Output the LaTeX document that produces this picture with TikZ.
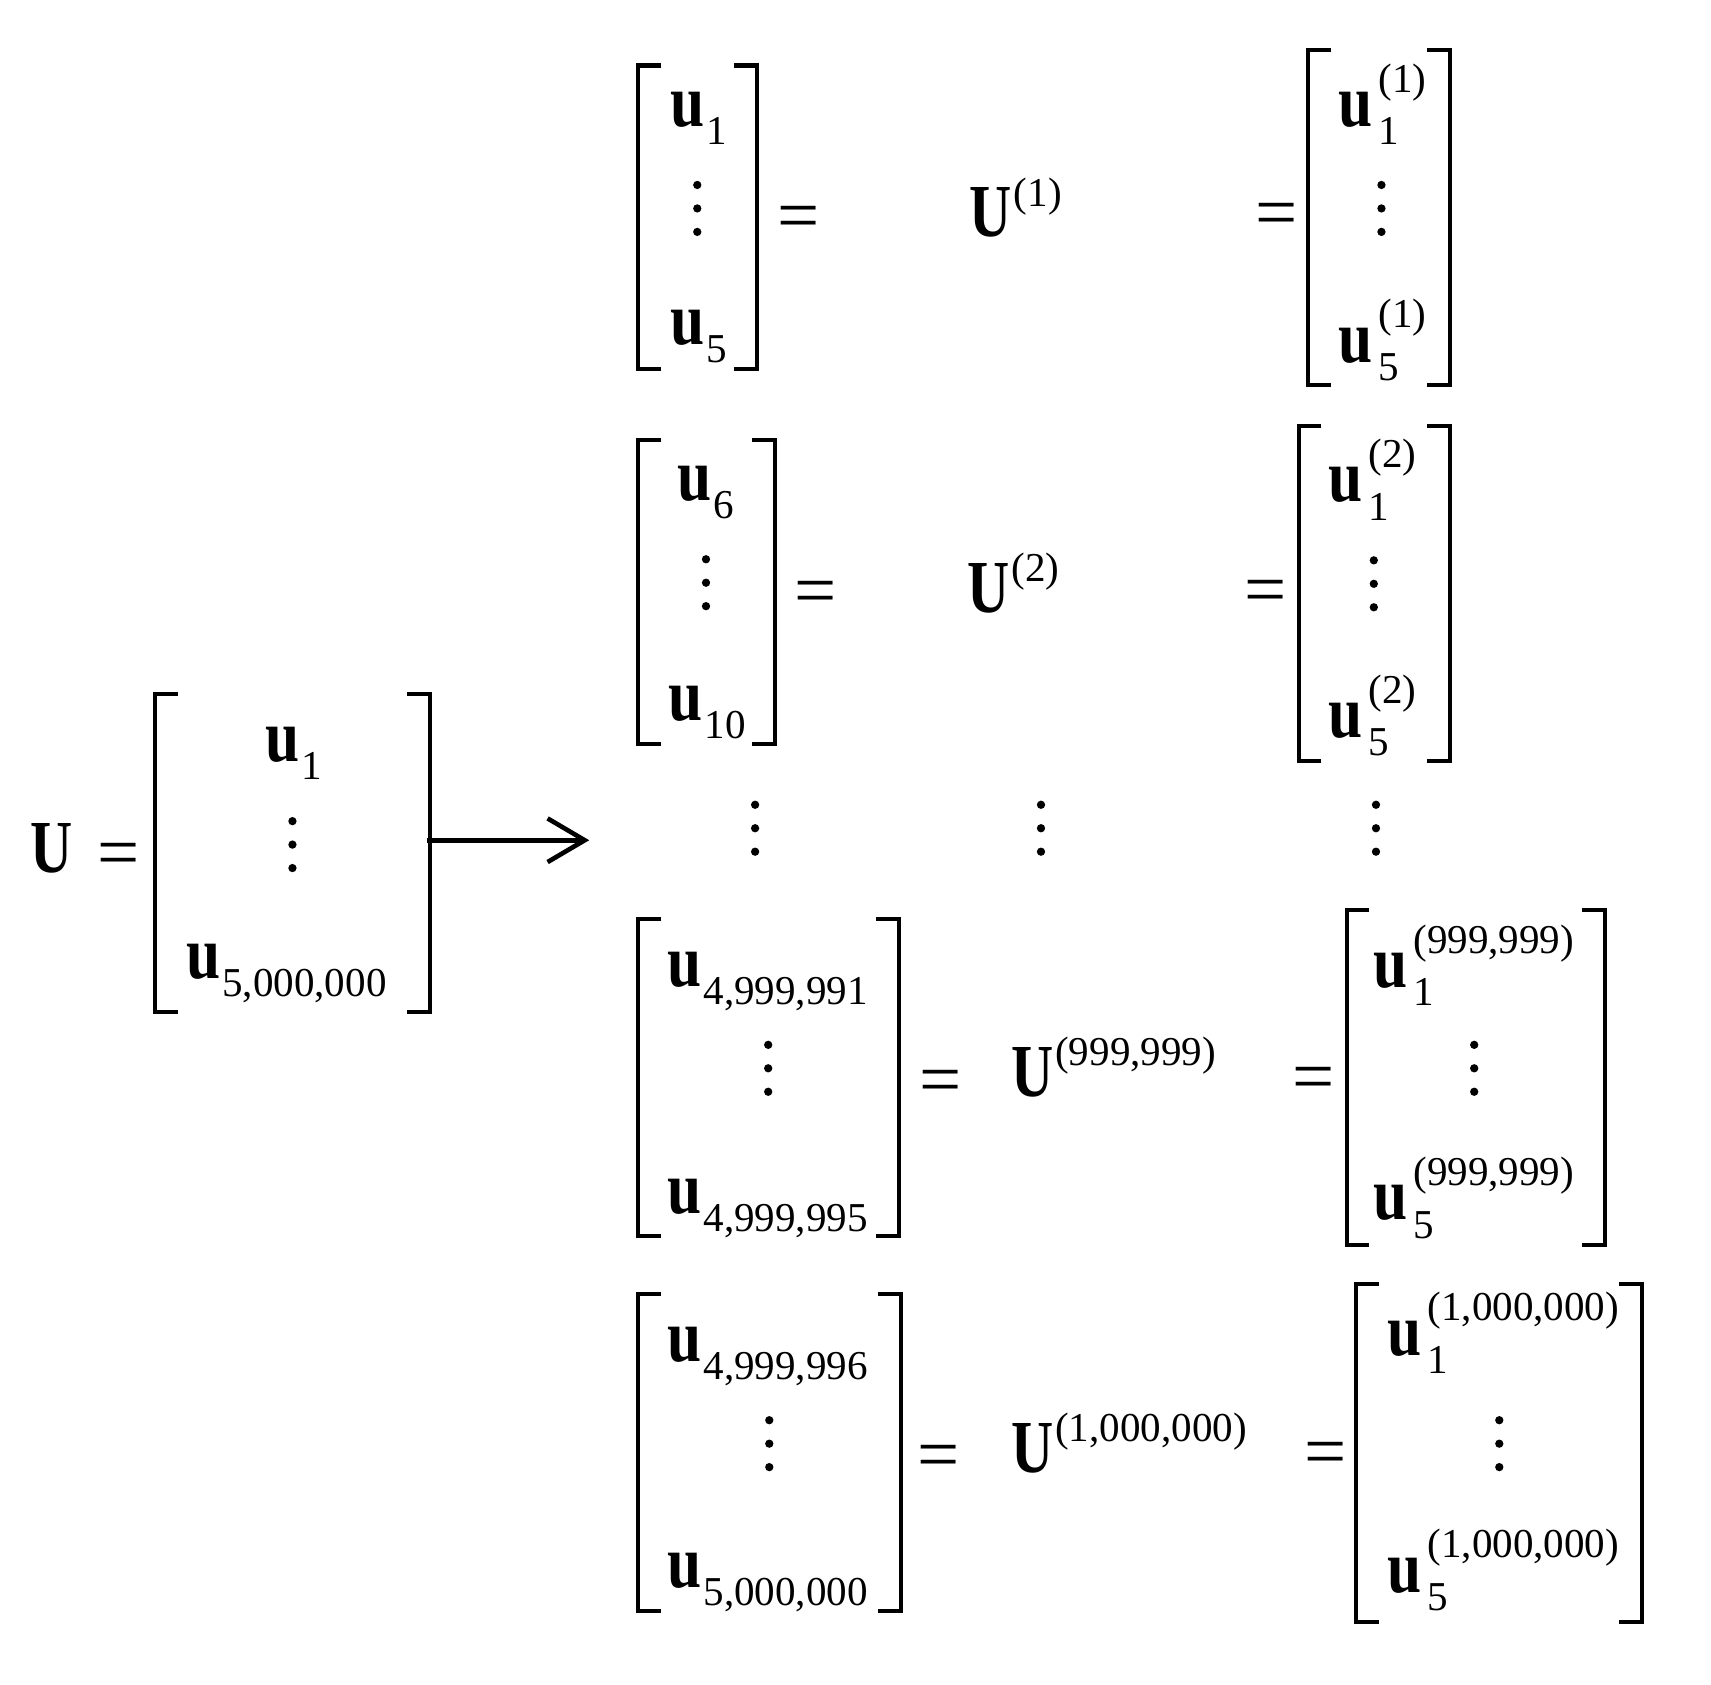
\documentclass[tikz,border=0pt]{standalone}
\usepackage{graphicx}
\usepackage{fontspec}
\setmainfont{Liberation Serif}
\usetikzlibrary{arrows.meta}

% 字号
\newcommand{\szM}{\fontsize{19.5}{23}\selectfont}
\newcommand{\szS}{\fontsize{10.7}{12}\selectfont}
% 粗体向量
\newcommand{\bu}{\scalebox{0.82}[1]{\textbf{u}}}
\newcommand{\bU}{\scalebox{0.78}[1]{\textbf{U}}}
\newcommand{\usb}[1]{\bu\kern0.5pt\raisebox{-4.7pt}{\szS #1}}
\newcommand{\usp}[2]{\bu\kern1.5pt\rlap{\raisebox{-4.7pt}{\szS #1}}\raisebox{9pt}{\szS(#2)}}
\newcommand{\Usp}[1]{\bU\kern0.5pt\raisebox{8pt}{\szS(#1)}}
% 方括号: 左x, 右x, 上y, 下y
\newcommand{\brk}[4]{%
  \draw[brk] ({#1+21},#3) -- (#1,#3) -- (#1,#4) -- ({#1+21},#4);
  \draw[brk] ({#2-21},#3) -- (#2,#3) -- (#2,#4) -- ({#2-21},#4);}
% 竖排省略号
\newcommand{\vdts}[2]{\foreach \k in {-1,0,1}{\fill ({#1},{#2+21.5*\k}) circle (0.38mm);}}

\begin{document}
\begin{tikzpicture}[x=0.01cm, y=-0.01cm, >={Straight Barb[length=3.4mm, width=4mm]},
  brk/.style={line width=1.05pt, line join=miter},
  every node/.style={inner sep=0, font=\szM},
  lab/.style={anchor=base west},
  eqs/.style={anchor=mid west}]
\useasboundingbox (0,0) rectangle (1568,1544);

% 左边: U = [u_1 ... u_N]
\node[lab] (U) at (27,800) {\bU};
\node[eqs] (eq0) at (89,796) {=};
\brk{142}{394}{636}{927}
\node[lab] (u1) at (243,698) {\usb{1}};
\vdts{268}{774}
\node[lab] (uN) at (170,897) {\usb{5,000,000}};

% 箭头
\coordinate (arrS) at (391,770);
\coordinate (arrE) at (540,770);
\draw[->, line width=1.2pt] (arrS) -- (arrE);

% 第1组
\brk{585}{694}{60}{338}
\node[lab] (a1) at (614,116) {\usb{1}};
\vdts{639}{191}
\node[lab] (a5) at (614,316) {\usb{5}};
\node[eqs] (ea) at (712,212) {=};
\node[lab] (Ua) at (888,217) {\Usp{1}};
\node[eqs] (ea2) at (1150,210) {=};
\brk{1199}{1329}{46}{353}
\node[lab] (ra1) at (1226,116) {\usp{1}{1}};
\vdts{1266}{191}
\node[lab] (ra5) at (1226,332) {\usp{5}{1}};

% 第2组
\brk{585}{710}{403}{682}
\node[lab] (b6) at (620,459) {\usb{6}};
\vdts{647}{534}
\node[lab] (b10) at (612,660) {\usb{10}};
\node[eqs] (eb) at (727,556) {=};
\node[lab] (Ub) at (886,561) {\Usp{2}};
\node[eqs] (eb2) at (1140,555) {=};
\brk{1190}{1329}{390}{697}
\node[lab] (rb1) at (1217,460) {\usp{1}{2}};
\vdts{1259}{535}
\node[lab] (rb5) at (1217,676) {\usp{5}{2}};

% 中间省略
\vdts{692}{759}
\vdts{954}{759}
\vdts{1261}{759}

% 第999,999组
\brk{585}{824}{842}{1133}
\node[lab] (c1) at (611,904) {\usb{4,999,991}};
\vdts{704}{979}
\node[lab] (c5) at (611,1112) {\usb{4,999,995}};
\node[eqs] (ec) at (842,1004) {=};
\node[lab] (Uc) at (926,1005) {\Usp{999,999}};
\node[eqs] (ec2) at (1184,1001) {=};
\brk{1234}{1471}{834}{1141}
\node[lab] (rc1) at (1258,905) {\usp{1}{999,999}};
\vdts{1351}{979}
\node[lab] (rc5) at (1258,1118) {\usp{5}{999,999}};

% 第1,000,000组
\brk{585}{826}{1186}{1476}
\node[lab] (d1) at (611,1248) {\usb{4,999,996}};
\vdts{705}{1323}
\node[lab] (d5) at (611,1455) {\usb{5,000,000}};
\node[eqs] (ed) at (840,1348) {=};
\node[lab] (Ud) at (926,1349) {\Usp{1,000,000}};
\node[eqs] (ed2) at (1195,1345) {=};
\brk{1243}{1505}{1177}{1486}
\node[lab] (rd1) at (1271,1242) {\usp{1}{1,000,000}};
\vdts{1374}{1323}
\node[lab] (rd5) at (1271,1459) {\usp{5}{1,000,000}};
\end{tikzpicture}
\end{document}
